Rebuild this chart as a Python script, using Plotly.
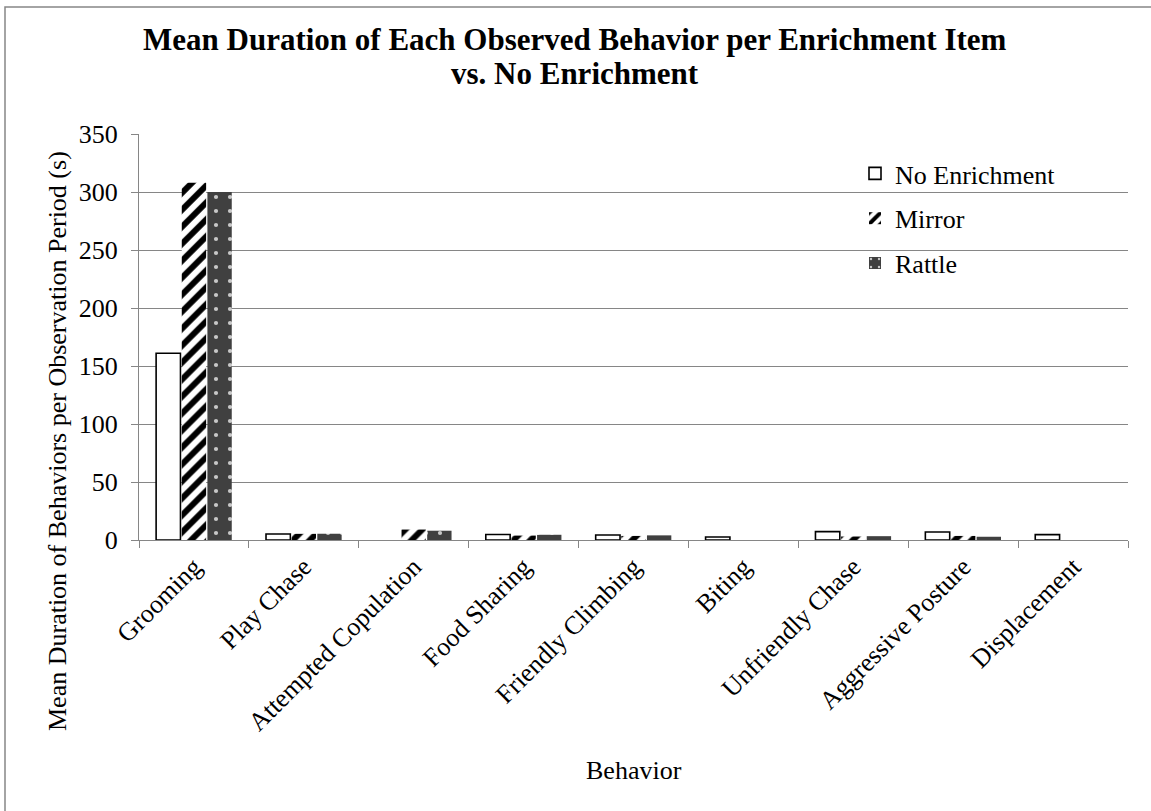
import plotly.graph_objects as go

categories = ["Grooming", "Play Chase", "Attempted Copulation", "Food Sharing",
              "Friendly Climbing", "Biting", "Unfriendly Chase", "Aggressive Posture",
              "Displacement"]
no_enrichment = [161, 5.2, 0, 4.8, 4.3, 2.6, 7.2, 6.9, 4.6]
mirror = [308, 5.3, 9, 3.8, 3.5, 0, 3, 3.5, 0]
rattle = [300, 5.4, 8, 4.5, 4, 0, 3.3, 2.8, 0]
y_ticks = [0, 50, 100, 150, 200, 250, 300, 350]

FONT = "Liberation Serif"
GRID = "#868686"

fig = go.Figure()
fig.add_trace(go.Bar(
    x=categories, y=no_enrichment, name="No Enrichment",
    marker=dict(color="white",
                line=dict(color="black", width=[1.6 if v > 0 else 0 for v in no_enrichment])),
    legendgroup="a",
))
fig.add_trace(go.Bar(
    x=categories, y=mirror, name="Mirror",
    marker=dict(color="white", line=dict(width=0),
                pattern=dict(shape="/", fgcolor="black", bgcolor="white",
                             size=12, solidity=0.5, fillmode="replace")),
    legendgroup="b",
))
fig.add_trace(go.Bar(
    x=categories, y=rattle, name="Rattle",
    marker=dict(color="#404040", line=dict(width=0),
                pattern=dict(shape=".", fgcolor="#c8c8c8", bgcolor="#404040",
                             size=14, solidity=0.07, fillmode="replace")),
    legendgroup="c",
))

L, R, T, B = 139, 23, 134, 271
W, H = 1151, 811
pw, ph = W - L - R, H - T - B

def px_x(p):
    return (p - L) / pw

def px_y(p):
    return (H - B - p) / ph

fig.update_layout(
    width=W, height=H,
    margin=dict(l=L, r=R, t=T, b=B, pad=0),
    paper_bgcolor="white", plot_bgcolor="white",
    font=dict(family=FONT, size=26, color="black"),
    barmode="group", bargap=0.3, bargroupgap=0.05,
    showlegend=True,
    legend=dict(x=px_x(855), y=px_y(150), xanchor="left", yanchor="top",
                bgcolor="rgba(0,0,0,0)", borderwidth=0,
                font=dict(family=FONT, size=26, color="black"),
                tracegroupgap=8, itemwidth=30),
    xaxis=dict(
        showline=True, linecolor=GRID, linewidth=1.3,
        ticks="outside", tickcolor=GRID, ticklen=7, tickwidth=1.3,
        tickson="boundaries", tickangle=-45,
        tickfont=dict(family=FONT, size=26, color="black"),
        showgrid=False, zeroline=False,
    ),
    yaxis=dict(
        range=[0, 350], tickvals=y_ticks,
        showline=True, linecolor=GRID, linewidth=1.3,
        ticks="outside", tickcolor=GRID, ticklen=7, tickwidth=1.3,
        ticklabelstandoff=8,
        tickfont=dict(family=FONT, size=26, color="black"),
        showgrid=True, gridcolor=GRID, gridwidth=1.3, zeroline=False,
    ),
    annotations=[
        dict(text="<b>Mean Duration of Each Observed Behavior per Enrichment Item</b>",
             xref="paper", yref="paper", x=px_x(574.5), y=px_y(40),
             xanchor="center", yanchor="middle", showarrow=False,
             font=dict(family=FONT, size=31, color="black")),
        dict(text="<b>vs. No Enrichment</b>",
             xref="paper", yref="paper", x=px_x(574.5), y=px_y(74),
             xanchor="center", yanchor="middle", showarrow=False,
             font=dict(family=FONT, size=31, color="black")),
        dict(text="Behavior",
             xref="paper", yref="paper", x=px_x(634), y=px_y(770),
             xanchor="center", yanchor="middle", showarrow=False,
             font=dict(family=FONT, size=26, color="black")),
        dict(text="Mean Duration of Behaviors per Observation Period (s)",
             xref="paper", yref="paper", x=px_x(57), y=px_y(441),
             xanchor="center", yanchor="middle", showarrow=False, textangle=-90,
             font=dict(family=FONT, size=26, color="black")),
    ],
    shapes=[
        dict(type="rect", xref="paper", yref="paper",
             x0=px_x(5), x1=px_x(1160), y0=px_y(820), y1=px_y(7),
             line=dict(color=GRID, width=1.5), fillcolor="rgba(0,0,0,0)", layer="below"),
    ],
)

fig.write_html("out.html")
